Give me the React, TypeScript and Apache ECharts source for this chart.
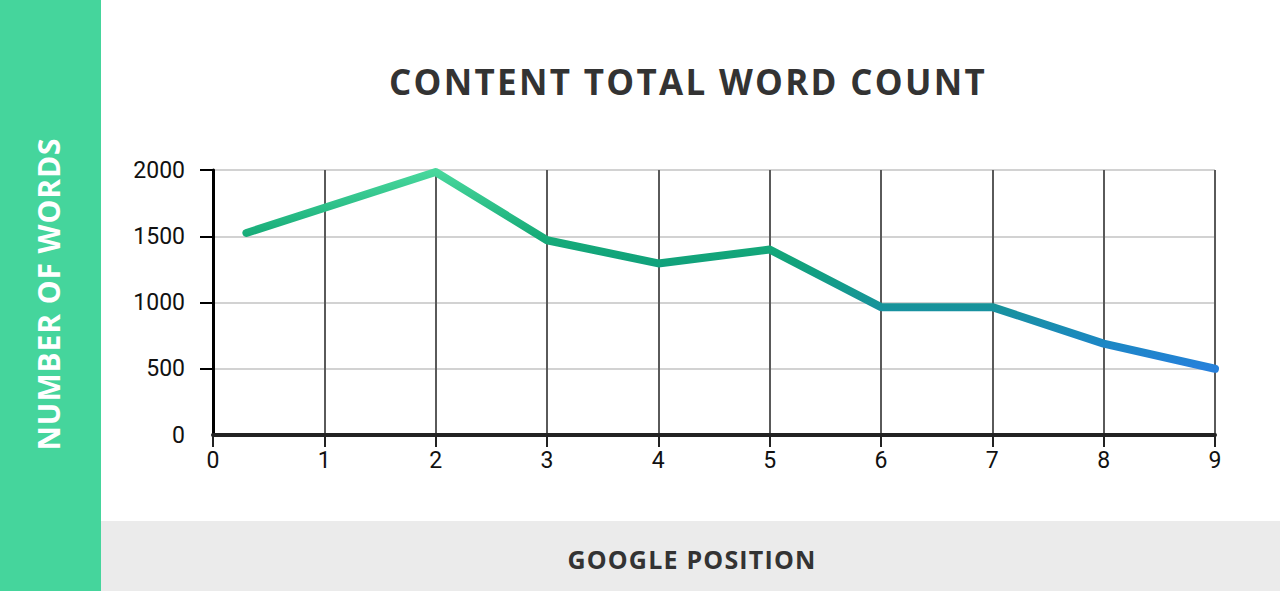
import { useEffect, useRef } from 'react'
import * as echarts from 'echarts'

const positions = [0.3, 2, 3, 4, 5, 6, 7, 8, 9]
const wordCounts = [1525, 1985, 1470, 1295, 1400, 965, 965, 690, 500]
const xTicks = [0, 1, 2, 3, 4, 5, 6, 7, 8, 9]
const yTicks = [0, 500, 1000, 1500, 2000]

const chartTitle = 'CONTENT TOTAL WORD COUNT'
const xTitle = 'GOOGLE POSITION'
const yTitle = 'NUMBER OF WORDS'

// zrender has no letter spacing, so the svg texts get it afterwards
const spacedTexts: Record<string, string> = {
  [chartTitle]: '2.3px',
  [xTitle]: '1.2px',
  [yTitle]: '0.9px',
}

function App() {
  const chartRef = useRef<HTMLDivElement | null>(null)

  useEffect(() => {
    if (!chartRef.current) {
      return undefined
    }
    document.body.style.margin = '0'

    const chart = echarts.init(chartRef.current, null, { renderer: 'svg' })
    const option: echarts.EChartsOption = {
      animation: false,
      backgroundColor: '#ffffff',
      grid: { left: 213, right: 65, top: 170, bottom: 156 },
      graphic: [
        {
          type: 'rect',
          shape: { x: 0, y: 0, width: 101, height: 591 },
          style: { fill: '#45d59c' },
          silent: true,
        },
        {
          type: 'rect',
          shape: { x: 101, y: 521, width: 1179, height: 70 },
          style: { fill: '#ebebeb' },
          silent: true,
        },
        {
          type: 'text',
          x: 688,
          y: 81,
          style: {
            text: chartTitle,
            fill: '#333333',
            font: 'bold 35px "Open Sans"',
            align: 'center',
            verticalAlign: 'middle',
          },
        },
        {
          type: 'text',
          x: 692,
          y: 559,
          style: {
            text: xTitle,
            fill: '#333333',
            font: 'bold 25px "Open Sans"',
            align: 'center',
            verticalAlign: 'middle',
          },
        },
        {
          type: 'text',
          x: 48,
          y: 294,
          rotation: Math.PI / 2,
          style: {
            text: yTitle,
            fill: '#ffffff',
            font: 'bold 30px "Open Sans"',
            align: 'center',
            verticalAlign: 'middle',
          },
        },
      ],
      xAxis: {
        type: 'value',
        min: xTicks[0],
        max: xTicks[xTicks.length - 1],
        interval: 1,
        axisLine: { lineStyle: { color: '#222222', width: 4 } },
        axisTick: { length: 12, lineStyle: { color: '#222222', width: 2 } },
        axisLabel: {
          margin: 14,
          color: '#111111',
          fontSize: 23,
          fontFamily: 'Roboto',
        },
        splitLine: { lineStyle: { color: '#5a5a5a', width: 2 } },
      },
      yAxis: {
        type: 'value',
        min: yTicks[0],
        max: yTicks[yTicks.length - 1],
        interval: 500,
        axisLine: { show: true, lineStyle: { color: '#000000', width: 3 } },
        axisTick: {
          show: true,
          length: 13,
          customValues: yTicks.slice(1),
          lineStyle: { color: '#000000', width: 2 },
        },
        axisLabel: {
          margin: 28,
          color: '#111111',
          fontSize: 23,
          fontFamily: 'Roboto',
          formatter: (v: number) => String(v),
        },
        splitLine: { lineStyle: { color: '#d2d2d2', width: 2 } },
      },
      series: [
        {
          type: 'line',
          data: positions.map((p, i) => [p, wordCounts[i]]),
          showSymbol: false,
          z: 5,
          lineStyle: {
            width: 8,
            cap: 'round',
            join: 'round',
            color: new echarts.graphic.LinearGradient(0, 0, 0, 1, [
              { offset: 0, color: '#48d79c' },
              { offset: 0.33, color: '#16ab78' },
              { offset: 0.46, color: '#11a27b' },
              { offset: 0.68, color: '#17939a' },
              { offset: 0.87, color: '#1c87c4' },
              { offset: 1, color: '#2680dc' },
            ]),
          },
        },
      ],
    }

    chart.setOption(option)

    chartRef.current.querySelectorAll('text').forEach((el) => {
      const spacing = spacedTexts[el.textContent || '']
      if (spacing) {
        el.setAttribute('letter-spacing', spacing)
      }
    })

    const handleResize = () => chart.resize()
    window.addEventListener('resize', handleResize)

    return () => {
      window.removeEventListener('resize', handleResize)
      chart.dispose()
    }
  }, [])

  return <div ref={chartRef} style={{ width: 1280, height: 591 }} />
}

export default App
